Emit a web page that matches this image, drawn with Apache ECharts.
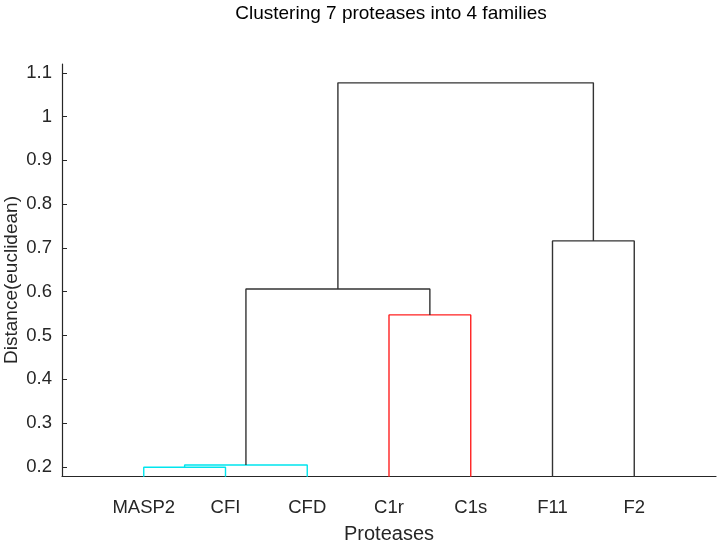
<!DOCTYPE html>
<html>
<head>
<meta charset="utf-8">
<script src="https://cdn.jsdelivr.net/npm/echarts@6/dist/echarts.min.js"></script>
<style>
html,body{margin:0;padding:0;background:#fff;}
#chart{width:717px;height:542px;}
</style>
</head>
<body>
<div id="chart"></div>
<script>
// Leaf labels in dendrogram order
var leaves = ['MASP2', 'CFI', 'CFD', 'C1r', 'C1s', 'F11', 'F2'];
// Linkage (MATLAB style): leaf ids 1..7, new nodes 8..13
var mergeLeft   = [1, 8, 4, 9, 6, 11];
var mergeRight  = [2, 3, 5, 10, 7, 12];
var mergeHeight = [0.199, 0.204, 0.547, 0.606, 0.716, 1.077];
var mergeColor  = ['#00e5ee', '#00e5ee', '#ff2020', '#333333', '#333333', '#333333'];
var yTicks = [0.2, 0.3, 0.4, 0.5, 0.6, 0.7, 0.8, 0.9, 1, 1.1];

var nodeX = {}, nodeY = {};
leaves.forEach(function (n, i) { nodeX[i + 1] = i + 1; nodeY[i + 1] = 0; });
var series = [];
mergeHeight.forEach(function (h, k) {
  var a = mergeLeft[k], b = mergeRight[k], id = leaves.length + k + 1;
  nodeX[id] = (nodeX[a] + nodeX[b]) / 2;
  nodeY[id] = h;
  series.push({
    type: 'line',
    silent: true,
    symbol: 'none',
    clip: true,
    lineStyle: { color: mergeColor[k], width: 1.4 },
    data: [[nodeX[a], nodeY[a]], [nodeX[a], h], [nodeX[b], h], [nodeX[b], nodeY[b]]]
  });
});

var txt = '#262626';
var font = 'Liberation Sans';
var chart = echarts.init(document.getElementById('chart'), null, { renderer: 'canvas' });
chart.setOption({
  animation: false,
  title: {
    text: 'Clustering 7 proteases into 4 families',
    left: 386, top: -1, textAlign: 'center',
    textStyle: { fontFamily: font, fontSize: 19, fontWeight: 'normal', color: '#000' }
  },
  grid: { left: 62, right: 1, top: 64, bottom: 66, containLabel: false, outerBoundsMode: 'none' },
  xAxis: {
    type: 'value', min: 0, max: 8, interval: 1,
    name: 'Proteases', nameLocation: 'middle', nameGap: 48, nameMoveOverlap: false,
    nameTextStyle: { fontFamily: font, fontSize: 20, color: txt },
    axisLine: { show: true, lineStyle: { color: txt, width: 1.2 } },
    axisTick: { show: false },
    splitLine: { show: false },
    axisLabel: {
      fontFamily: font, fontSize: 18.5, color: txt, margin: 22,
      showMinLabel: false, showMaxLabel: false,
      formatter: function (v) { return leaves[v - 1] || ''; }
    }
  },
  yAxis: {
    type: 'value', min: 0.179, max: 1.12,
    name: 'Distance(euclidean)', nameLocation: 'middle', nameGap: 41, nameRotate: 90, nameMoveOverlap: false,
    nameTextStyle: { fontFamily: font, fontSize: 19, color: txt, padding: [0, 20, 0, 0] },
    axisLine: { show: true, lineStyle: { color: txt, width: 1.2 } },
    axisTick: { show: true, inside: true, length: 5, lineStyle: { color: txt }, customValues: yTicks },
    splitLine: { show: false },
    axisLabel: {
      fontFamily: font, fontSize: 18.5, color: txt, margin: 10,
      customValues: yTicks,
      formatter: function (v) { return String(Math.round(v * 10) / 10); }
    }
  },
  series: series
});
</script>
</body>
</html>
